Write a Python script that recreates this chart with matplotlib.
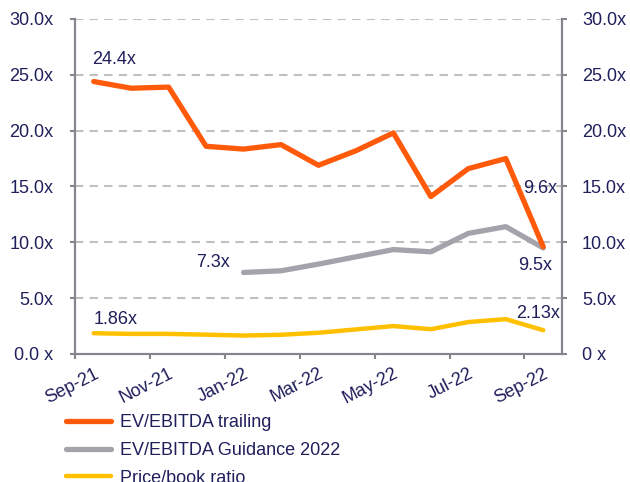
import numpy as np
import matplotlib
matplotlib.use('Agg')
import matplotlib.pyplot as plt

plt.rcParams['font.family'] = ['Liberation Sans', 'DejaVu Sans']

# data (monthly, Sep-21 .. Sep-22)
months = ['Sep-21', 'Oct-21', 'Nov-21', 'Dec-21', 'Jan-22', 'Feb-22', 'Mar-22',
          'Apr-22', 'May-22', 'Jun-22', 'Jul-22', 'Aug-22', 'Sep-22']
ev_trailing = [24.4, 23.8, 23.9, 18.6, 18.35, 18.75, 16.9, 18.2, 19.8, 14.1, 16.6, 17.5, 9.6]
ev_guidance = [np.nan, np.nan, np.nan, np.nan, 7.3, 7.45, 8.05, 8.7, 9.35, 9.15, 10.8, 11.4, 9.5]
pb_ratio = [1.86, 1.8, 1.8, 1.73, 1.65, 1.72, 1.9, 2.2, 2.5, 2.22, 2.86, 3.12, 2.13]
yticks = [0, 5, 10, 15, 20, 25, 30]
left_labels = ['0.0 x', '5.0x', '10.0x', '15.0x', '20.0x', '25.0x', '30.0x']
right_labels = ['0 x', '5.0x', '10.0x', '15.0x', '20.0x', '25.0x', '30.0x']

c_orange = '#FF5A0A'
c_grey = '#A3A3AB'
c_yellow = '#FFC000'
c_text = '#1F1F5C'
c_axis = '#85858F'
c_grid = '#C0C0C0'
fs = 13

fig = plt.figure(figsize=(6.3, 4.82), dpi=100)
ax = fig.add_axes([0.119, 0.2656, 0.773, 0.695])
x = np.arange(len(months))

ax.plot(x, ev_trailing, color=c_orange, lw=3.8, solid_capstyle='round', zorder=4, label='EV/EBITDA trailing')
ax.plot(x, ev_guidance, color=c_grey, lw=3.8, solid_capstyle='round', zorder=3, label='EV/EBITDA Guidance 2022')
ax.plot(x, pb_ratio, color=c_yellow, lw=3.2, solid_capstyle='round', zorder=3, label='Price/book ratio')

ax.set_xlim(-0.5, len(months) - 0.5)
ax.set_ylim(0, 30)

# dashed gridlines
for v in yticks[1:]:
    ax.axhline(v, color=c_grid, lw=1.5, ls=(0, (4, 3)), zorder=1)

ax.set_yticks(yticks)
ax.set_yticklabels(left_labels)
ax.tick_params(axis='y', colors=c_axis, labelcolor=c_text, labelsize=fs, length=3.5, width=1.5, pad=12)

# ticks between categories, labels on every second category
ax.set_xticks(np.arange(-0.5, len(months) - 1, 2))
ax.set_xticklabels([])
ax.set_xticks(x[::2], minor=True)
ax.set_xticklabels(months[::2], minor=True, rotation=27, ha='right', va='top',
                   rotation_mode='anchor', color=c_text, fontsize=fs)
ax.tick_params(axis='x', which='major', colors=c_axis, length=3.5, width=1.5)
ax.tick_params(axis='x', which='minor', length=0, pad=8)

ax.spines['top'].set_visible(False)
for s in ['left', 'right', 'bottom']:
    ax.spines[s].set_color(c_axis)
    ax.spines[s].set_linewidth(1.5)

ax2 = ax.twinx()
ax2.set_ylim(0, 30)
ax2.set_yticks(yticks)
ax2.set_yticklabels(right_labels)
ax2.tick_params(axis='y', colors=c_axis, labelcolor=c_text, labelsize=fs, length=3.5, width=1.5, pad=11)
ax2.spines['top'].set_visible(False)
for s in ['left', 'right', 'bottom']:
    ax2.spines[s].set_color(c_axis)
    ax2.spines[s].set_linewidth(1.5)

# data labels
lab = dict(fontsize=fs, color=c_text, textcoords='offset points')
ax.annotate('24.4x', (0, ev_trailing[0]), xytext=(-1, 10), ha='left', va='bottom', **lab)
ax.annotate('9.6x', (12, ev_trailing[12]), xytext=(-2, 42), ha='center', va='center', **lab)
ax.annotate('7.3x', (4, ev_guidance[4]), xytext=(-10, 7), ha='right', va='center', **lab)
ax.annotate('9.5x', (12, ev_guidance[12]), xytext=(-6, -13), ha='center', va='center', **lab)
ax.annotate('1.86x', (0, pb_ratio[0]), xytext=(0, 10), ha='left', va='center', **lab)
ax.annotate('2.13x', (12, pb_ratio[12]), xytext=(-4, 12), ha='center', va='center', **lab)

fig.legend(loc='upper left', bbox_to_anchor=(66 / 630, 1 - 414 / 482), frameon=False,
           fontsize=fs, labelcolor=c_text, handlelength=2.5, handletextpad=0.5,
           labelspacing=0.6, borderpad=0, borderaxespad=0)

fig.savefig('out.png', dpi=100)
